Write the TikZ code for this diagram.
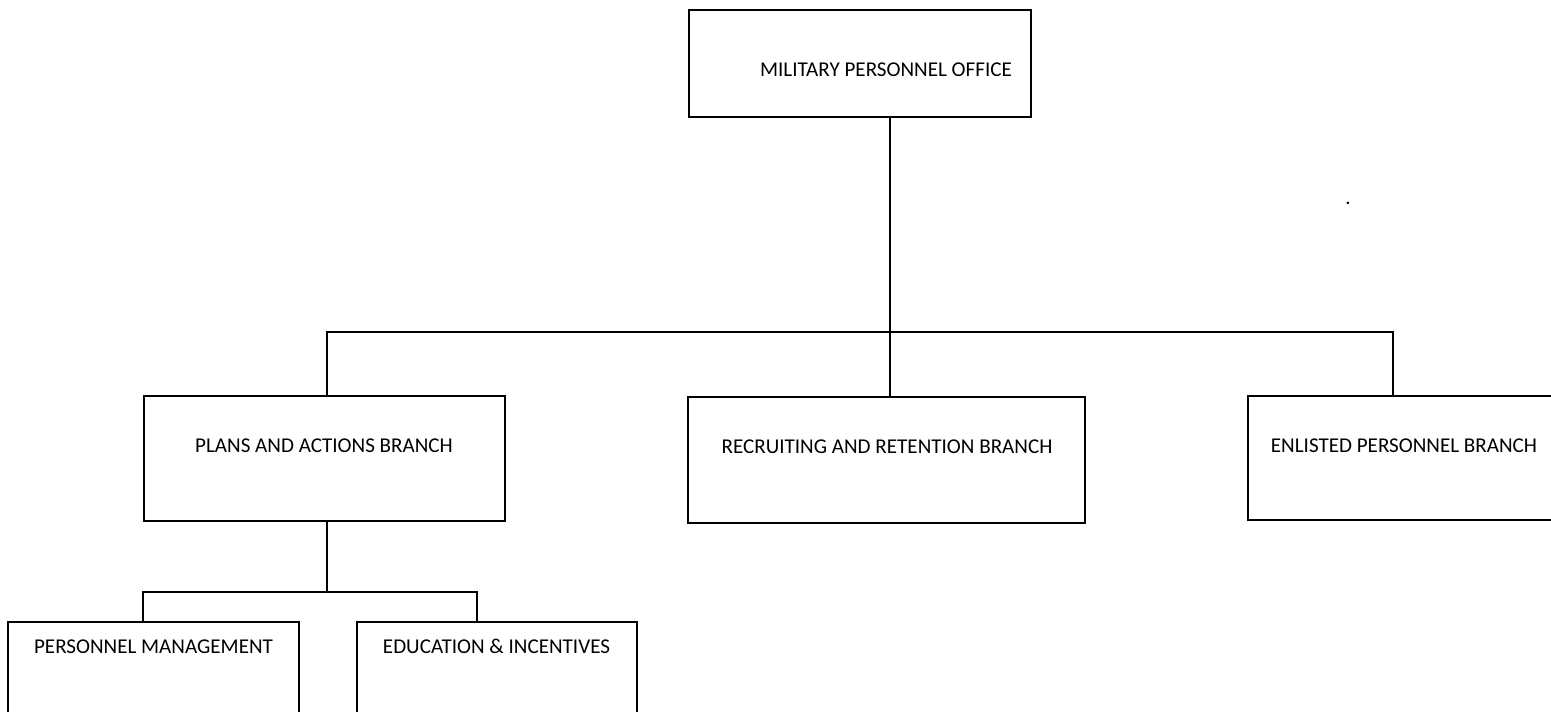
\documentclass[tikz,border=0pt]{standalone}
\usepackage{fontspec}
\setmainfont{Carlito}
\usepackage{tikz}
\usetikzlibrary{positioning, calc}

\begin{document}
\begin{tikzpicture}[x=0.02cm, y=-0.02cm,
    unitbox/.style={rectangle, draw=black, line width=1.1pt, inner sep=0pt},
    unitname/.style={anchor=base, inner sep=0pt, font=\fontsize{12}{14}\selectfont},
    link/.style={draw=black, line width=1.1pt}]
  \useasboundingbox (0,0) rectangle (1551,712);
  \clip (0,0) rectangle (1551,712);

  % boxes
  \node[unitbox, minimum width=6.84cm, minimum height=2.14cm] (office) at (860,63.5) {};
  \node[unitbox, minimum width=7.22cm, minimum height=2.5cm] (plans) at (324.5,458.5) {};
  \node[unitbox, minimum width=7.94cm, minimum height=2.52cm] (recruit) at (886.5,460) {};
  \node[unitbox, minimum width=6.24cm, minimum height=2.48cm] (enlisted) at (1404,458) {};
  \node[unitbox, minimum width=5.82cm, minimum height=3.56cm] (persmgmt) at (153.5,711) {};
  \node[unitbox, minimum width=5.6cm, minimum height=3.56cm] (educ) at (497,711) {};

  % labels
  \node[unitname] (officetxt) at (886,77) {MILITARY PERSONNEL OFFICE};
  \node[unitname] (planstxt) at (324,453) {PLANS AND ACTIONS BRANCH};
  \node[unitname] (recruittxt) at (887,454) {RECRUITING AND RETENTION BRANCH};
  \node[unitname] (enlistedtxt) at (1404,453) {ENLISTED PERSONNEL BRANCH};
  \node[unitname] (persmgmttxt) at (153.5,653) {PERSONNEL MANAGEMENT};
  \node[unitname] (eductxt) at (496.5,653) {EDUCATION \& INCENTIVES};
  \node[unitname] (stray) at (1348,205) {.};

  % connectors
  \coordinate (bus) at (890,332);
  \coordinate (busleft) at (327,332);
  \coordinate (busright) at (1393,332);
  \coordinate (subbus) at (327,592);
  \coordinate (subleft) at (143,592);
  \coordinate (subright) at (477,592);
  \draw[link] (office.south -| bus) -- (recruit.north -| bus);
  \draw[link] (plans.north -| busleft) -- (busleft) -- (busright) -- (enlisted.north -| busright);
  \draw[link] (plans.south -| subbus) -- (subbus);
  \draw[link] (persmgmt.north -| subleft) -- (subleft) -- (subright) -- (educ.north -| subright);
\end{tikzpicture}
\end{document}
